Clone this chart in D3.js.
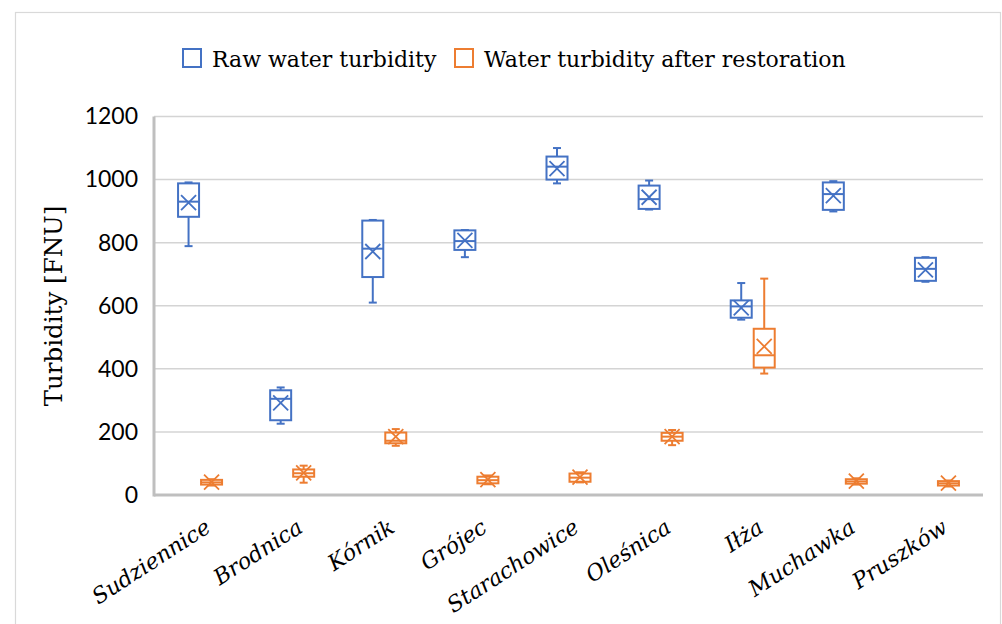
<!DOCTYPE html>
<html>
<head>
<meta charset="utf-8">
<script src="https://cdn.jsdelivr.net/npm/d3@7"></script>
<style>
  body { margin: 0; background: #fff; }
  svg { display: block; }
</style>
</head>
<body>
<div id="chart"></div>
<script>
// sites on the x axis
const categories = ["Sudziennice", "Brodnica", "Kórnik", "Grójec", "Starachowice", "Oleśnica", "Iłża", "Muchawka", "Pruszków"]

// box stats per site: [min, q1, median, q3, max, mean]
const rawStats = [
    [789, 882, 930, 988, 991, 927],
    [226, 237, 305, 332, 341, 292],
    [610, 691, 781, 870, 872, 772],
    [754, 777, 805, 839, 840, 807],
    [988, 1000, 1041, 1073, 1100, 1035],
    [905, 907, 938, 981, 997, 944],
    [556, 562, 598, 617, 672, 593],
    [899, 904, 954, 991, 995, 949],
    [676, 679, 717, 752, 754, 714]
]
const restoredStats = [
    [30, 33, 40, 48, 50, 41],
    [39, 58, 69, 81, 93, 70],
    [156, 164, 172, 198, 209, 185],
    [34, 37, 47, 58, 62, 49],
    [40, 42, 55, 68, 72, 57],
    [158, 172, 185, 197, 206, 185],
    [385, 404, 443, 527, 686, 471],
    [33, 36, 43, 50, 53, 44],
    [27, 30, 37, 44, 46, 38]
]

const seriesNames = ["Raw water turbidity", "Water turbidity after restoration"]
const seriesColors = ["#4472c4", "#ed7d31"]
const yTicks = [0, 200, 400, 600, 800, 1000, 1200]

const width = 1002
const height = 624
const margin = {left: 154, right: 19, top: 116.5, bottom: 129}

const svg = d3.select("#chart").append("svg")
    .attr("width", width)
    .attr("height", height)

// chart frame
svg.append("rect")
    .attr("x", 15.5).attr("y", 12.5)
    .attr("width", 985).attr("height", 660)
    .attr("fill", "#fff")
    .attr("stroke", "#d9d9d9")
    .attr("stroke-width", 1.2)

const x = d3.scaleBand()
    .domain(categories)
    .range([margin.left, width - margin.right])

const y = d3.scaleLinear()
    .domain([0, 1200])
    .range([height - margin.bottom, margin.top])

// gridlines
svg.append("g")
    .selectAll("line")
    .data(yTicks.filter(t => t > 0))
    .join("line")
    .attr("x1", margin.left).attr("x2", width - margin.right)
    .attr("y1", d => y(d)).attr("y2", d => y(d))
    .attr("stroke", "#d4d4d4")
    .attr("stroke-width", 1.5)

// y tick labels
const yAxis = svg.append("g")
    .attr("transform", `translate(${margin.left},0)`)
    .call(d3.axisLeft(y).tickValues(yTicks).tickFormat(d3.format("d")).tickSize(0).tickPadding(16))
yAxis.select(".domain").remove()
yAxis.selectAll("text")
    .attr("font-family", "Lato, 'Open Sans', sans-serif")
    .attr("font-size", 23)
    .attr("fill", "#000")

// axis lines
svg.append("line")
    .attr("x1", margin.left).attr("x2", margin.left)
    .attr("y1", margin.top).attr("y2", y(0) + 1.5)
    .attr("stroke", "#bfbfbf").attr("stroke-width", 3)
svg.append("line")
    .attr("x1", margin.left).attr("x2", width - margin.right)
    .attr("y1", y(0)).attr("y2", y(0))
    .attr("stroke", "#bfbfbf").attr("stroke-width", 3)

// x labels
svg.append("g")
    .selectAll("text")
    .data(categories)
    .join("text")
    .attr("transform", d => `translate(${x(d) + x.bandwidth() / 2 + 12},531) rotate(-33)`)
    .attr("text-anchor", "end")
    .attr("font-family", "'DejaVu Serif', serif")
    .attr("font-style", "italic")
    .attr("font-size", 22)
    .attr("fill", "#000")
    .text(d => d)

// y title
svg.append("text")
    .attr("transform", `translate(62,306) rotate(-90)`)
    .attr("text-anchor", "middle")
    .attr("font-family", "'DejaVu Serif', serif")
    .attr("font-size", 24.5)
    .attr("fill", "#000")
    .text("Turbidity [FNU]")

// boxes
const boxW = 21
const offsets = [-11.5, 11.5]
;[rawStats, restoredStats].forEach((stats, s) => {
    const color = seriesColors[s]
    const g = svg.append("g")
        .attr("fill", "none")
        .attr("stroke", color)
        .attr("stroke-width", 2)
    stats.forEach((st, i) => {
        const [mn, q1, med, q3, mx, mean] = st
        const cx = x(categories[i]) + x.bandwidth() / 2 + offsets[s]
        const b = g.append("g")
        // whiskers
        b.append("line").attr("x1", cx).attr("x2", cx).attr("y1", y(q3)).attr("y2", y(mx))
        b.append("line").attr("x1", cx).attr("x2", cx).attr("y1", y(q1)).attr("y2", y(mn))
        b.append("line").attr("x1", cx - 4).attr("x2", cx + 4).attr("y1", y(mx)).attr("y2", y(mx))
        b.append("line").attr("x1", cx - 4).attr("x2", cx + 4).attr("y1", y(mn)).attr("y2", y(mn))
        // box
        b.append("rect")
            .attr("x", cx - boxW / 2).attr("width", boxW)
            .attr("y", y(q3)).attr("height", Math.max(y(q1) - y(q3), 1))
            .attr("fill", "#fff")
        // median
        b.append("line").attr("x1", cx - boxW / 2).attr("x2", cx + boxW / 2).attr("y1", y(med)).attr("y2", y(med))
        // mean marker
        const m = 7.5
        b.append("path")
            .attr("d", `M${cx - m},${y(mean) - m}L${cx + m},${y(mean) + m}M${cx - m},${y(mean) + m}L${cx + m},${y(mean) - m}`)
            .attr("stroke-width", 1.8)
    })
})

// legend
const legend = svg.append("g")
const legendX = [183, 455]
seriesNames.forEach((name, i) => {
    legend.append("rect")
        .attr("x", legendX[i]).attr("y", 49)
        .attr("width", 18).attr("height", 18)
        .attr("fill", "#fff")
        .attr("stroke", seriesColors[i])
        .attr("stroke-width", 2)
    legend.append("text")
        .attr("x", legendX[i] + 29).attr("y", 67)
        .attr("font-family", "'DejaVu Serif', serif")
        .attr("font-size", 22)
        .attr("fill", "#000")
        .text(name)
})
</script>
</body>
</html>
